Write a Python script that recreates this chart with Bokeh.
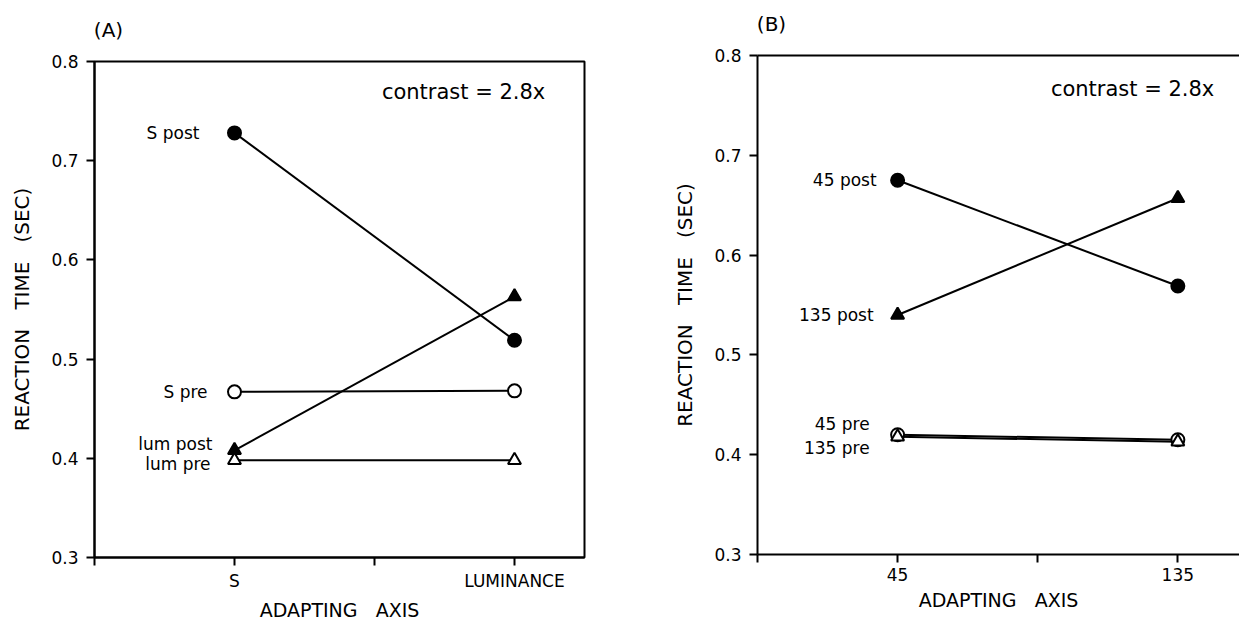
from bokeh.plotting import figure
from bokeh.layouts import row, column
from bokeh.models import FixedTicker, Label, LinearAxis
from bokeh.core.properties import value
from bokeh.embed import file_html
from bokeh.resources import INLINE

# ---------------- data ----------------
a_categories = ["S", "LUMINANCE"]
a_positions = [1, 3]
a_s_post = [0.728, 0.519]
a_s_pre = [0.467, 0.468]
a_lum_post = [0.408, 0.563]
a_lum_pre = [0.398, 0.398]

b_categories = ["45", "135"]
b_positions = [1, 3]
b_45_post = [0.675, 0.569]
b_135_post = [0.540, 0.657]
b_45_pre = [0.420, 0.415]
b_135_pre = [0.418, 0.413]

y_ticks = [0.3, 0.4, 0.5, 0.6, 0.7, 0.8]
x_ticks = [0, 1, 2, 3]

FONT = "DejaVu Sans"
GAP = "\u00a0\u00a0\u00a0"

# (name, values, marker, filled, label x offset px, label y offset px)
a_series = [
    ("S post", a_s_post, "circle", True, -35, 0),
    ("S pre", a_s_pre, "circle", False, -27, 0),
    ("lum post", a_lum_post, "triangle", True, -22, -6),
    ("lum pre", a_lum_pre, "triangle", False, -24, 4),
]
b_series = [
    ("45 post", b_45_post, "circle", True, -21, 0),
    ("135 post", b_135_post, "triangle", True, -24, 0),
    ("45 pre", b_45_pre, "circle", False, -28, -11),
    ("135 pre", b_135_pre, "triangle", False, -28, 11),
]


def make_panel(title, cats, positions, series, x_end, width, mbl, mbr, mbt, mbb,
               contrast_x, contrast_y, full_outline, title_pos):
    p = figure(width=width, height=623, x_range=(0, x_end), y_range=(0.3, 0.8),
               output_backend="svg", toolbar_location=None,
               min_border_left=mbl, min_border_right=mbr,
               min_border_top=mbt, min_border_bottom=mbb)
    p.xgrid.visible = False
    p.ygrid.visible = False
    p.background_fill_color = "white"
    p.border_fill_color = "white"

    p.xaxis.ticker = FixedTicker(ticks=x_ticks)
    overrides = {t: "" for t in x_ticks}
    for pos, c in zip(positions, cats):
        overrides[pos] = c
    p.xaxis.major_label_overrides = overrides
    p.yaxis.ticker = FixedTicker(ticks=y_ticks)

    for ax in (p.xaxis[0], p.yaxis[0]):
        ax.axis_line_width = 2
        ax.axis_line_color = "black"
        ax.major_tick_line_width = 2
        ax.major_tick_line_color = "black"
        ax.major_tick_out = 8
        ax.major_tick_in = 0
        ax.minor_tick_out = 0
        ax.minor_tick_in = 0
        ax.major_label_text_font = FONT
        ax.major_label_text_font_size = "17px"
        ax.major_label_text_color = "black"
        ax.axis_label_text_font = FONT
        ax.axis_label_text_font_style = "normal"
        ax.axis_label_text_color = "black"
    p.xaxis.axis_label_text_font_size = "19px"
    p.yaxis.axis_label_text_font_size = "20px"
    p.xaxis.major_label_standoff = 5
    p.yaxis.major_label_standoff = 8
    p.xaxis.axis_label = "ADAPTING" + GAP + "AXIS"
    p.yaxis.axis_label = "REACTION" + GAP + "TIME" + GAP + "(SEC)"
    p.xaxis.axis_label_standoff = 5
    p.yaxis.axis_label_standoff = 14

    if full_outline:
        p.outline_line_color = "black"
        p.outline_line_width = 2
        p.outline_line_alpha = 1
    else:
        p.outline_line_color = None

    # top axis: carries the frame's top edge and the panel letter
    top = LinearAxis(ticker=FixedTicker(ticks=[title_pos]),
                     major_label_overrides={title_pos: title},
                     axis_line_width=2,
                     axis_line_color=None if full_outline else "black",
                     major_tick_out=0, major_tick_in=0,
                     minor_tick_out=0, minor_tick_in=0,
                     major_label_standoff=20, axis_label_standoff=0,
                     major_label_text_font=FONT,
                     major_label_text_font_size="20px",
                     major_label_text_color="black")
    p.add_layout(top, "above")

    for name, vals, marker, filled, dx, dy in series:
        p.line(positions, vals, line_color="black", line_width=2)
        p.scatter(positions, vals, marker=marker, size=13,
                  fill_color="black" if filled else "white",
                  line_color="black", line_width=2)
        p.text(x=[positions[0]], y=[vals[0]], text=[name], x_offset=dx,
               y_offset=dy, text_align="right", text_baseline="middle",
               text_font=value(FONT), text_font_size="17px", text_color="black")

    p.add_layout(Label(x=contrast_x, y=contrast_y, text="contrast = 2.8x",
                       text_align="right", text_baseline="middle",
                       text_font=FONT, text_font_size="21px", text_color="black"))
    return p


pa = make_panel("(A)", a_categories, a_positions, a_series, 3.5, 620,
                94, 36, 61, 65, 3.22, 0.769, True, 0.1)
pb = make_panel("(B)", b_categories, b_positions, b_series, 3.44, 619,
                137, 0, 55, 69, 3.26, 0.766, False, 0.1)

layout = row(column(pa), column(pb))
open("out.html", "w").write(file_html(layout, INLINE))
